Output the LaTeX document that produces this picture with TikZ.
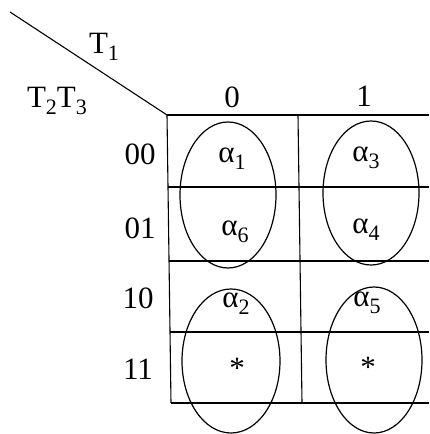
\documentclass[tikz,border=0pt]{standalone}
\usepackage{fontspec}
\setmainfont{Liberation Serif}
\newcommand{\sbx}[1]{\raisebox{-0.22em}{\fontsize{22}{22}\selectfont #1}}
\begin{document}
\begin{tikzpicture}[x=1pt,y=-1pt,line width=1.1pt,
  lbl/.style={inner sep=0pt,font=\fontsize{31}{31}\selectfont},
  cell/.style={inner sep=0pt,font=\fontsize{31}{31}\selectfont},
  grp/.style={draw,line width=1.2pt}]
\useasboundingbox (0,0) rectangle (429,434);
\begin{scope}
\clip (0,0) rectangle (429,434);
% grid
\coordinate (c) at (167,115);
\coordinate (s) at (10,12);
\draw (c) -- (429,115);
\draw (168,187) -- (429,187);
\draw (169,261) -- (429,261);
\draw (170,332) -- (429,332);
\draw (171,403) -- (429,403);
\draw (c) -- (171,403);
\draw (298,115) -- (302,403);
\draw (s) -- (c);
% labels
\node[lbl] (t1) at (104,47) {T\sbx{1}};
\node[lbl] (t23) at (57,101) {T\sbx{2}T\sbx{3}};
\node[lbl] (c0) at (232,97) {0};
\node[lbl] (c1) at (364,96) {1};
\node[lbl] (r00) at (140,154) {00};
\node[lbl] (r01) at (140,228) {01};
\node[lbl] (r10) at (138,298) {10};
\node[lbl] (r11) at (138,369) {11};
% cells
\node[cell] (a1) at (232,159) {α\sbx{1}};
\node[cell] (a6) at (235,232) {α\sbx{6}};
\node[cell] (a3) at (366,158) {α\sbx{3}};
\node[cell] (a4) at (366,230) {α\sbx{4}};
\node[cell] (a2) at (236,304) {α\sbx{2}};
\node[cell] (a5) at (367,303) {α\sbx{5}};
\node[cell] (s1) at (237,368) {*};
\node[cell] (s2) at (368,367) {*};
% groups
\draw[grp] (228,195) ellipse [x radius=48, y radius=73];
\draw[grp] (371,193) ellipse [x radius=48, y radius=72];
\draw[grp] (231,361) ellipse [x radius=49, y radius=72];
\draw[grp] (374,360) ellipse [x radius=48, y radius=73];
\end{scope}
\end{tikzpicture}
\end{document}
